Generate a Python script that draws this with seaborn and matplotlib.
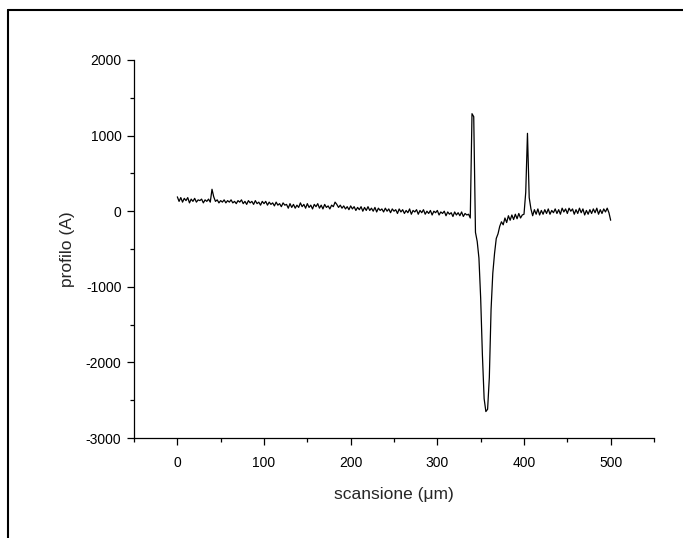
import numpy as np
import pandas as pd
import matplotlib
matplotlib.use("Agg")
import matplotlib.pyplot as plt
from matplotlib.lines import Line2D
from matplotlib.ticker import MultipleLocator
import seaborn as sns

# scan positions (um), sampled every 2 um
scan_um = np.arange(0, 501, 2)

# profile height (A)
profile_a = [
    190, 130, 180, 120, 170, 140, 180, 110, 160, 130,        # 0-18
    170, 120, 150, 140, 160, 110, 150, 130, 160, 120,        # 20-38
    290, 190, 130, 150, 110, 140, 120, 150, 110, 140,        # 40-58
    120, 150, 110, 130, 100, 140, 120, 150, 100, 130,        # 60-78
    90, 140, 110, 130, 90, 140, 100, 120, 80, 130,           # 80-98
    100, 130, 80, 120, 90, 110, 70, 120, 80, 100,            # 100-118
    60, 110, 80, 90, 40, 100, 50, 90, 40, 80,                # 120-138
    50, 110, 60, 90, 40, 100, 50, 80, 30, 90,                # 140-158
    60, 100, 40, 80, 30, 90, 50, 70, 30, 80,                 # 160-178
    60, 120, 90, 50, 80, 40, 70, 30, 60, 20,                 # 180-198
    70, 30, 60, 10, 50, 20, 60, 0, 50, 10,                   # 200-218
    60, 10, 40, 0, 50, -10, 40, 10, 30, -10,                 # 220-238
    40, 0, 30, -20, 30, 0, 20, -30, 30, -10,                 # 240-258
    20, -30, 10, -20, 30, -40, 10, -10, 20, -40,             # 260-278
    10, -20, 20, -40, 0, -30, 10, -50, 0, -20,               # 280-298
    10, -50, -10, -30, 0, -60, -10, -40, -20, -70,           # 300-318
    -10, -50, -20, -60, -10, -70, -30, -50, -40, -90,        # 320-338
    1290, 1250, -280, -400, -620, -1150, -1900, -2480, -2650, -2620,  # 340-358
    -2200, -1300, -820, -560, -360, -300, -200, -140, -180, -90,      # 360-378
    -150, -60, -120, -50, -110, -40, -100, -30, -90, -50,    # 380-398
    -40, 250, 1030, 180, 30, -60, 20, -40, 30, -50,          # 400-418
    10, -40, 20, -30, 30, -40, 10, -20, 30, -30,             # 420-438
    20, -40, 40, -10, 30, -30, 40, 0, 30, -40,               # 440-458
    20, -30, 40, -20, 30, -50, 10, -40, 20, -30,             # 460-478
    30, -20, 40, -40, 20, -30, 30, -10, 40, -20,             # 480-498
    -120,                                                    # 500
]

x_ticks = [0, 100, 200, 300, 400, 500]
y_ticks = [-3000, -2000, -1000, 0, 1000, 2000]

df = pd.DataFrame({"scan": scan_um, "profile": profile_a})

sns.set_style("ticks")
plt.rcParams['font.family'] = ['Liberation Sans', 'DejaVu Sans']
plt.rcParams['axes.unicode_minus'] = False

fig = plt.figure(figsize=(6.83, 5.38), dpi=100)
ax = fig.add_axes([134 / 683, 100 / 538, 520 / 683, 378 / 538])

sns.lineplot(data=df, x="scan", y="profile", ax=ax, color="black",
             linewidth=0.9, estimator=None)

ax.set_xlim(-50, 550)
ax.set_ylim(-3000, 2000)
ax.set_xticks(x_ticks)
ax.set_yticks(y_ticks)
ax.xaxis.set_minor_locator(MultipleLocator(50))
ax.yaxis.set_minor_locator(MultipleLocator(500))

sns.despine(ax=ax)
for side in ["left", "bottom"]:
    ax.spines[side].set_linewidth(0.9)
    ax.spines[side].set_color("black")

ax.tick_params(which="major", direction="out", length=5, width=0.9,
               colors="black", labelsize=10)
ax.tick_params(which="minor", direction="out", length=3, width=0.9,
               colors="black")
ax.tick_params(axis="x", which="major", pad=8)
ax.tick_params(axis="y", which="major", pad=4)

ax.set_xlabel("scansione (μm)", fontsize=12.5, labelpad=12)
ax.set_ylabel("profilo (A)", fontsize=12.5, labelpad=8)

# page frame: top and left edges only
fig.add_artist(Line2D([8 / 683, 1.0], [1 - 10 / 538, 1 - 10 / 538],
                      color="black", linewidth=1.5,
                      transform=fig.transFigure))
fig.add_artist(Line2D([8 / 683, 8 / 683], [0.0, 1 - 10 / 538],
                      color="black", linewidth=1.5,
                      transform=fig.transFigure))

fig.savefig("out.png", dpi=100)
